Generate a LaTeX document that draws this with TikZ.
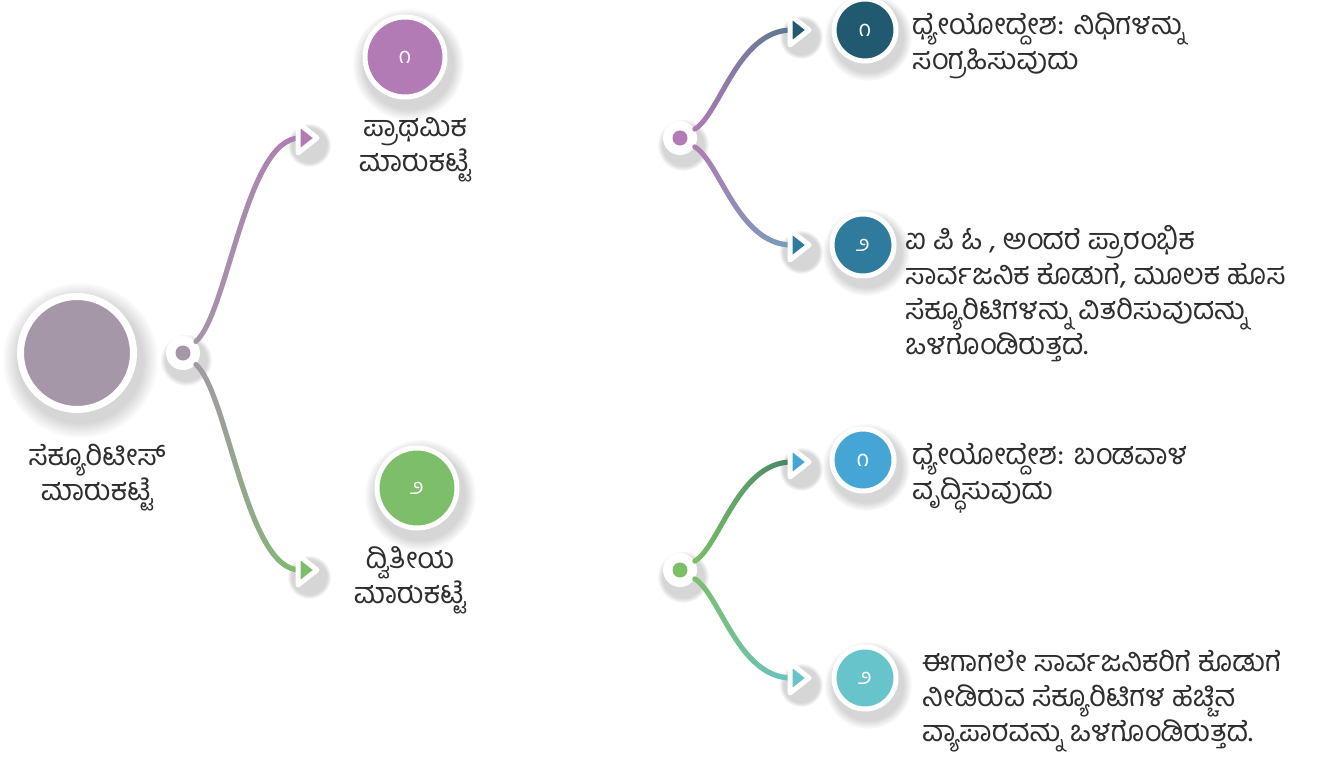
\documentclass[tikz,border=0pt]{standalone}
\usepackage{fontspec}
\newfontfamily\kannada[Script=Kannada]{Hind Mysuru}
\usepackage{xcolor}
\usetikzlibrary{shapes.geometric, arrows.meta, positioning, fadings}

\definecolor{rootc}{HTML}{A597A8}
\definecolor{primc}{HTML}{B27BB6}
\definecolor{secc}{HTML}{7CBF68}
\definecolor{aimc}{HTML}{215A70}
\definecolor{ipoc}{HTML}{2E7B9D}
\definecolor{growc}{HTML}{45A5D5}
\definecolor{tradec}{HTML}{67C4CB}
\definecolor{inkc}{HTML}{2E2E2E}

\begin{document}
\begin{tikzpicture}[x=1pt, y=-1pt,
        font=\kannada\fontsize{29}{35}\selectfont,
        disc/.style={circle, draw=white, fill=#1, line width=5pt, minimum size=62pt, inner sep=0pt, text=white, font=\kannada\fontsize{22}{22}\selectfont},
        hub/.style={circle, fill=white, minimum size=34pt, inner sep=0pt, path picture={\fill[#1] (path picture bounding box.center) circle (7.5pt);}},
        pointer/.style={circle, minimum size=12pt, inner sep=0pt},
        link/.style={line width=5pt, line cap=round},
        txt/.style={text=inkc, inner sep=0pt, align=#1},
        halo/.style={black, opacity=.16, path fading=circle with fuzzy edge 20 percent}
    ]
        \fill[white] (0,0) rectangle (1322,765);
        \useasboundingbox (0,0) rectangle (1322,765);

        % soft shadows
        \foreach \x/\y/\r in {77/353/78, 405/57/56, 417/488/56, 865/30/44, 863/245/44, 863/460/44, 865/678/44, 183/353/26, 680/138/26, 680/570/26, 306/138/22, 306/570/22, 798/30/22, 798/245/22, 798/462/22, 798/678/22}
            \fill[halo] (\x+3,\y+7) circle (\r pt);

        % main topic
        \node[disc=rootc, minimum size=113pt, line width=7pt] (root) at (77,353) {};
        \node[txt=center] (rootlbl) at (97,478) {ಸೆಕ್ಯೂರಿಟೀಸ್\\ಮಾರುಕಟ್ಟೆ};
        \node[hub=rootc] (j0) at (183,353) {};

        % markets
        \node[pointer] (pA) at (306,138) {};
        \node[pointer] (pB) at (306,570) {};
        \node[disc=primc, minimum size=80pt] (prim) at (405,57) {೧};
        \node[txt=center] (primlbl) at (415,150) {ಪ್ರಾಥಮಿಕ\\ಮಾರುಕಟ್ಟೆ};
        \node[disc=secc, minimum size=80pt] (sec) at (417,488) {೨};
        \node[txt=center] (seclbl) at (410,580) {ದ್ವಿತೀಯ\\ಮಾರುಕಟ್ಟೆ};

        % primary market details
        \node[hub=primc] (j1) at (680,138) {};
        \node[pointer] (qA) at (798,30) {};
        \node[pointer] (qB) at (798,245) {};
        \node[disc=aimc] (aim) at (865,30) {೧};
        \node[disc=ipoc] (ipo) at (863,245) {೨};
        \node[txt=left, anchor=west] (aimtxt) at (912,46) {ಧ್ಯೇಯೋದ್ದೇಶ: ನಿಧಿಗಳನ್ನು\\ಸಂಗ್ರಹಿಸುವುದು};
        \node[txt=left, anchor=west] (ipotxt) at (905,294) {ಐ ಪಿ ಓ , ಅಂದರೆ ಪ್ರಾರಂಭಿಕ\\ಸಾರ್ವಜನಿಕ ಕೊಡುಗೆ, ಮೂಲಕ ಹೊಸ\\ಸೆಕ್ಯೂರಿಟಿಗಳನ್ನು ವಿತರಿಸುವುದನ್ನು\\ಒಳಗೊಂಡಿರುತ್ತದೆ.};

        % secondary market details
        \node[hub=secc] (j2) at (680,570) {};
        \node[pointer] (rA) at (798,462) {};
        \node[pointer] (rB) at (798,678) {};
        \node[disc=growc] (grow) at (863,460) {೧};
        \node[disc=tradec] (trade) at (865,678) {೨};
        \node[txt=left, anchor=west] (growtxt) at (912,478) {ಧ್ಯೇಯೋದ್ದೇಶ: ಬಂಡವಾಳ\\ವೃದ್ಧಿಸುವುದು};
        \node[txt=left, anchor=west] (tradetxt) at (922,701) {ಈಗಾಗಲೇ ಸಾರ್ವಜನಿಕರಿಗೆ ಕೊಡುಗೆ\\ನೀಡಿರುವ ಸೆಕ್ಯೂರಿಟಿಗಳ ಹೆಚ್ಚಿನ\\ವ್ಯಾಪಾರವನ್ನು ಒಳಗೊಂಡಿರುತ್ತದೆ.};

        % connectors, two colours blended
        \foreach \s/\t/\dx/\dy/\ca/\cb in {j0/pA/45/-40/rootc/primc, j0/pB/45/40/rootc/secc, j1/qA/40/-24/primc/aimc!80!white, j1/qB/40/24/primc/ipoc!70!white, j2/rA/40/-24/secc/aimc!60!secc, j2/rB/40/24/secc/tradec} {
            \draw[link, \ca] (\s) .. controls +(\dx,\dy) and +(-60,0) .. (\t);
            \draw[link, \cb, path fading=west] (\s) .. controls +(\dx,\dy) and +(-60,0) .. (\t);
        }

        % arrow heads
        \foreach \p/\c in {pA/primc, pB/secc, qA/aimc, qB/ipoc, rA/growc, rB/tradec}
            \filldraw[draw=white, fill=\c, line width=5pt, line join=round] (\p) ++(-8,-15) -- ++(19,15) -- ++(-19,15) -- cycle;
    \end{tikzpicture}
\end{document}
